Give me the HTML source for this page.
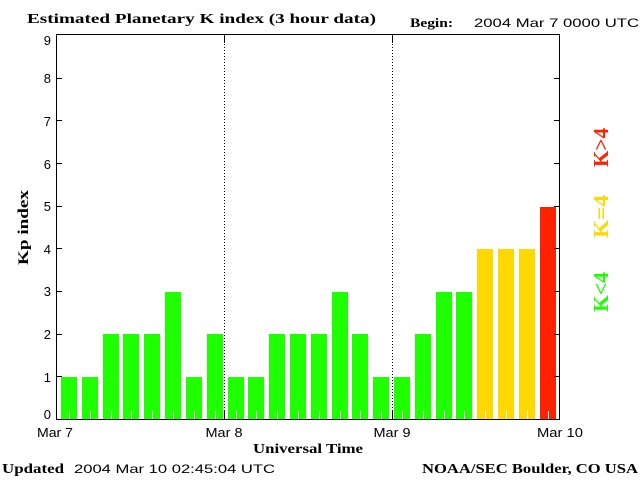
<!DOCTYPE html>
<html><head><meta charset="utf-8"><style>
html,body{margin:0;padding:0;background:#fff;}
svg{display:block;}
.sf{font-family:"Liberation Serif",serif;font-weight:bold;fill:#000;}
.ss{font-family:"Liberation Sans",sans-serif;fill:#000;}
</style></head><body>
<svg width="640" height="480" viewBox="0 0 640 480" xmlns="http://www.w3.org/2000/svg">
<rect width="640" height="480" fill="#fff"/>
<!-- title -->
<text class="sf" x="27" y="23" font-size="14" textLength="349" lengthAdjust="spacingAndGlyphs">Estimated Planetary K index (3 hour data)</text>
<text class="sf" x="410" y="27" font-size="13" textLength="43" lengthAdjust="spacingAndGlyphs">Begin:</text>
<text class="ss" x="474" y="27" font-size="12" textLength="165" lengthAdjust="spacingAndGlyphs">2004 Mar 7 0000 UTC</text>

<!-- bars -->
<g shape-rendering="crispEdges">
<rect x="61" y="377" width="16" height="42" fill="#1eff00"/>
<rect x="82" y="377" width="16" height="42" fill="#1eff00"/>
<rect x="103" y="334" width="16" height="85" fill="#1eff00"/>
<rect x="123" y="334" width="16" height="85" fill="#1eff00"/>
<rect x="144" y="334" width="16" height="85" fill="#1eff00"/>
<rect x="165" y="292" width="16" height="127" fill="#1eff00"/>
<rect x="186" y="377" width="16" height="42" fill="#1eff00"/>
<rect x="207" y="334" width="16" height="85" fill="#1eff00"/>
<rect x="228" y="377" width="16" height="42" fill="#1eff00"/>
<rect x="248" y="377" width="16" height="42" fill="#1eff00"/>
<rect x="269" y="334" width="16" height="85" fill="#1eff00"/>
<rect x="290" y="334" width="16" height="85" fill="#1eff00"/>
<rect x="311" y="334" width="16" height="85" fill="#1eff00"/>
<rect x="332" y="292" width="16" height="127" fill="#1eff00"/>
<rect x="352" y="334" width="16" height="85" fill="#1eff00"/>
<rect x="373" y="377" width="16" height="42" fill="#1eff00"/>
<rect x="394" y="377" width="16" height="42" fill="#1eff00"/>
<rect x="415" y="334" width="16" height="85" fill="#1eff00"/>
<rect x="436" y="292" width="16" height="127" fill="#1eff00"/>
<rect x="456" y="292" width="16" height="127" fill="#1eff00"/>
<rect x="477" y="249" width="16" height="170" fill="#ffd800"/>
<rect x="498" y="249" width="16" height="170" fill="#ffd800"/>
<rect x="519" y="249" width="16" height="170" fill="#ffd800"/>
<rect x="540" y="207" width="16" height="212" fill="#ff2200"/>
</g>
<!-- white minor ticks -->
<g stroke="#fff" stroke-width="1" shape-rendering="crispEdges">
<path d="M69.5 411V419M90.5 411V419M111.5 411V419M131.5 411V419M152.5 411V419M173.5 411V419M194.5 411V419M215.5 411V419M236.5 411V419M256.5 411V419M277.5 411V419M298.5 411V419M319.5 411V419M340.5 411V419M360.5 411V419M381.5 411V419M402.5 411V419M423.5 411V419M444.5 411V419M464.5 411V419M485.5 411V419M506.5 411V419M527.5 411V419M548.5 411V419"/>
</g>

<!-- axes -->
<g stroke="#000" stroke-width="1" fill="none" shape-rendering="crispEdges">
<rect x="56.5" y="34.5" width="503" height="385"/>
<!-- left ticks -->
<path d="M57 376.5H62M57 334.5H62M57 291.5H62M57 248.5H62M57 206.5H62M57 163.5H62M57 120.5H62M57 78.5H62"/>
<!-- right ticks -->
<path d="M554 376.5H559M554 334.5H559M554 291.5H559M554 248.5H559M554 206.5H559M554 163.5H559M554 120.5H559M554 78.5H559"/>
<!-- day ticks -->
<path d="M224.5 35V43M392.5 35V43M224.5 411V419M392.5 411V419"/>
<path d="M224.5 44V411M392.5 44V411" stroke-dasharray="1,2"/>
</g>

<!-- y labels -->
<g class="ss" font-size="13" text-anchor="end">
<text x="51" y="419">0</text>
<text x="51" y="382">1</text>
<text x="51" y="339">2</text>
<text x="51" y="296">3</text>
<text x="51" y="254">4</text>
<text x="51" y="211">5</text>
<text x="51" y="169">6</text>
<text x="51" y="126">7</text>
<text x="51" y="83">8</text>
<text x="51" y="45">9</text>
</g>
<text class="sf" font-size="15" transform="translate(28,265) rotate(-90)" textLength="75" lengthAdjust="spacingAndGlyphs">Kp index</text>

<!-- x labels -->
<g class="ss" font-size="13" text-anchor="middle">
<text x="55" y="437" textLength="36" lengthAdjust="spacingAndGlyphs">Mar 7</text>
<text x="224" y="437" textLength="37" lengthAdjust="spacingAndGlyphs">Mar 8</text>
<text x="392" y="437" textLength="37" lengthAdjust="spacingAndGlyphs">Mar 9</text>
<text x="560" y="437" textLength="46" lengthAdjust="spacingAndGlyphs">Mar 10</text>
</g>
<text class="sf" x="253" y="453" font-size="14" textLength="110" lengthAdjust="spacingAndGlyphs">Universal Time</text>

<!-- right legend -->
<text font-family="Liberation Serif, serif" font-weight="bold" font-size="21" fill="#ff2200" transform="translate(608,167) rotate(-90)" textLength="39" lengthAdjust="spacingAndGlyphs">K&gt;4</text>
<text font-family="Liberation Serif, serif" font-weight="bold" font-size="21" fill="#ffd800" transform="translate(608,238) rotate(-90)" textLength="43" lengthAdjust="spacingAndGlyphs">K=4</text>
<text font-family="Liberation Serif, serif" font-weight="bold" font-size="21" fill="#1eff00" transform="translate(608,312) rotate(-90)" textLength="40" lengthAdjust="spacingAndGlyphs">K&lt;4</text>

<!-- footer -->
<text class="sf" x="2" y="473" font-size="14" textLength="62" lengthAdjust="spacingAndGlyphs">Updated</text>
<text class="ss" x="74" y="473" font-size="12" textLength="201" lengthAdjust="spacingAndGlyphs">2004 Mar 10 02:45:04 UTC</text>
<text class="sf" x="422" y="473" font-size="14" textLength="216" lengthAdjust="spacingAndGlyphs">NOAA/SEC Boulder, CO USA</text>
</svg>
</body></html>
